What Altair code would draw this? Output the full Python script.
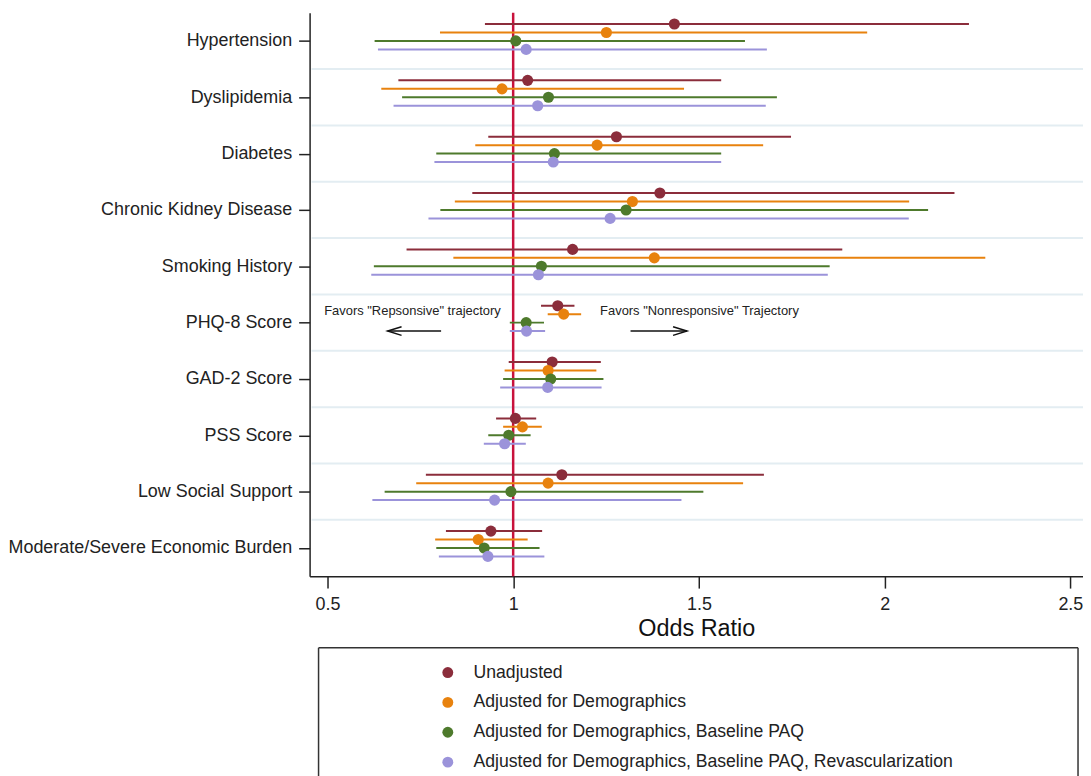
import json
import altair as alt
import pandas as pd

categories = [
    "Hypertension", "Dyslipidemia", "Diabetes", "Chronic Kidney Disease",
    "Smoking History", "PHQ-8 Score", "GAD-2 Score", "PSS Score",
    "Low Social Support", "Moderate/Severe Economic Burden",
]
series_names = [
    "Unadjusted",
    "Adjusted for Demographics",
    "Adjusted for Demographics, Baseline PAQ",
    "Adjusted for Demographics, Baseline PAQ, Revascularization",
]
series_colors = ["#8B2D3B", "#E8820E", "#4E7A2C", "#9B93DA"]

unadj_or = [1.434, 1.039, 1.278, 1.395, 1.160, 1.120, 1.105, 1.006, 1.131, 0.940]
unadj_lo = [0.924, 0.691, 0.933, 0.890, 0.713, 1.075, 0.988, 0.954, 0.765, 0.819]
unadj_hi = [2.227, 1.560, 1.748, 2.188, 1.886, 1.165, 1.236, 1.062, 1.675, 1.078]

demo_or = [1.251, 0.970, 1.226, 1.321, 1.380, 1.136, 1.094, 1.025, 1.094, 0.906]
demo_lo = [0.803, 0.645, 0.898, 0.843, 0.839, 1.093, 0.977, 0.973, 0.739, 0.790]
demo_hi = [1.953, 1.460, 1.673, 2.066, 2.271, 1.183, 1.224, 1.077, 1.619, 1.039]

paq_or = [1.007, 1.095, 1.111, 1.304, 1.076, 1.035, 1.101, 0.988, 0.994, 0.922]
paq_lo = [0.627, 0.701, 0.793, 0.804, 0.625, 0.991, 0.973, 0.933, 0.654, 0.793]
paq_hi = [1.624, 1.710, 1.560, 2.117, 1.852, 1.083, 1.243, 1.047, 1.512, 1.071]

rev_or = [1.035, 1.066, 1.108, 1.261, 1.068, 1.036, 1.093, 0.977, 0.950, 0.932]
rev_lo = [0.636, 0.678, 0.788, 0.772, 0.618, 0.991, 0.965, 0.921, 0.621, 0.800]
rev_hi = [1.683, 1.680, 1.560, 2.065, 1.847, 1.086, 1.238, 1.034, 1.453, 1.084]

x_ticks = [0.5, 1, 1.5, 2, 2.5]
reference_or = [1]

note_texts = ['Favors "Repsonsive" trajectory', 'Favors "Nonresponsive" Trajectory']
note_x = [0.9665, 1.234]
note_y = [4.80, 4.80]
arrow_lo = [0.662, 1.316]
arrow_hi = [0.806, 1.468]
arrow_y = [5.15, 5.15]

FONT = "Liberation Sans"
TXT = "#222222"

rows = []
all_series = [
    (unadj_or, unadj_lo, unadj_hi),
    (demo_or, demo_lo, demo_hi),
    (paq_or, paq_lo, paq_hi),
    (rev_or, rev_lo, rev_hi),
]
for s_idx, (name, (ors, los, his)) in enumerate(zip(series_names, all_series)):
    for c_idx, cat in enumerate(categories):
        rows.append(dict(category=cat, idx=c_idx, s=s_idx, series=name,
                         OR=ors[c_idx], lo=los[c_idx], hi=his[c_idx]))
df = pd.DataFrame(rows)

xscale = alt.Scale(domain=[0.452, 2.534], nice=False, zero=False)
yscale = alt.Scale(domain=[-0.5, 9.5], nice=False, zero=False, reverse=True)
xaxis = alt.Axis(values=x_ticks, format="~g", grid=False, title="Odds Ratio")
label_expr = json.dumps(categories) + "[round(datum.value)]"
yaxis = alt.Axis(values=list(range(len(categories))), labelExpr=label_expr,
                 grid=False, title=None, labelLimit=500)

X = lambda f: alt.X(f, type="quantitative", scale=xscale, axis=xaxis)
Y = lambda f: alt.Y(f, type="quantitative", scale=yscale, axis=yaxis)

legend = alt.Legend(
    title=None, orient="none", legendX=130, legendY=654,
    symbolType="circle", symbolSize=120, symbolStrokeWidth=0,
    labelFont=FONT, labelFontSize=17.7, labelColor=TXT,
    labelOffset=17, rowPadding=11, padding=0, labelLimit=800,
)
cscale = alt.Scale(domain=series_names, range=series_colors)

base = alt.Chart(df).transform_calculate(ypos="datum.idx + (datum.s - 2) * 0.15")

sep_df = pd.DataFrame({"ypos": [i + 0.5 for i in range(len(categories) - 1)]})
separators = alt.Chart(sep_df).mark_rule(color="#E3EDF2", strokeWidth=2).encode(
    y=Y("ypos"), x=alt.value(2), x2=alt.value(777)
)

ref = alt.Chart(pd.DataFrame({"OR": reference_or})).mark_rule(
    color="#C8123C", strokeWidth=2.5
).encode(x=X("OR"), y=alt.value(0), y2=alt.value(566))

ci = base.mark_rule(strokeWidth=2).encode(
    x=X("lo"), x2="hi", y=Y("ypos"),
    stroke=alt.Stroke("series:N", scale=cscale, legend=legend),
)

pts = base.mark_circle(size=125, opacity=1).encode(
    x=X("OR"), y=Y("ypos"),
    color=alt.Color("series:N", scale=cscale, legend=legend),
)

note_df = pd.DataFrame({"OR": note_x, "ypos": note_y, "label": note_texts})
note_left = alt.Chart(note_df.iloc[[0]]).mark_text(
    align="right", baseline="middle", font=FONT, fontSize=13, color=TXT
).encode(x=X("OR"), y=Y("ypos"), text="label:N")
note_right = alt.Chart(note_df.iloc[[1]]).mark_text(
    align="left", baseline="middle", font=FONT, fontSize=13, color=TXT
).encode(x=X("OR"), y=Y("ypos"), text="label:N")

arrow_df = pd.DataFrame({"lo": arrow_lo, "hi": arrow_hi, "ypos": arrow_y})
arrow_shafts = alt.Chart(arrow_df).mark_rule(color="#111111", strokeWidth=1.5).encode(
    x=X("lo"), x2="hi", y=Y("ypos")
)
head_left = alt.Chart(arrow_df.iloc[[0]]).transform_calculate(
    OR="datum.lo + 0.0188"
).mark_point(
    shape="M 1 -0.62 L -1 0 L 1 0.62", size=196, filled=False,
    color="#111111", strokeWidth=1.5, opacity=1
).encode(x=X("OR"), y=Y("ypos"))
head_right = alt.Chart(arrow_df.iloc[[1]]).transform_calculate(
    OR="datum.hi - 0.0188"
).mark_point(
    shape="M -1 -0.62 L 1 0 L -1 0.62", size=196, filled=False,
    color="#111111", strokeWidth=1.5, opacity=1
).encode(x=X("OR"), y=Y("ypos"))

box_data = alt.Data(values=[{}])
box_style = dict(color="#333333", strokeWidth=1.5)
box_top = alt.Chart(box_data).mark_rule(**box_style).encode(
    x=alt.value(9), x2=alt.value(772), y=alt.value(638)
)
box_left = alt.Chart(box_data).mark_rule(**box_style).encode(
    x=alt.value(9), y=alt.value(638), y2=alt.value(780)
)
box_right = alt.Chart(box_data).mark_rule(**box_style).encode(
    x=alt.value(772), y=alt.value(638), y2=alt.value(780)
)

chart = alt.layer(
    separators, ref, ci, pts, note_left, note_right,
    arrow_shafts, head_left, head_right, box_top, box_left, box_right,
).properties(
    width=777, height=566,
    autosize=alt.AutoSizeParams(type="none"),
    padding={"left": 303, "top": 3, "right": 0, "bottom": 199},
    background="white",
).configure_view(stroke=None).configure_axis(
    domainColor=TXT, domainWidth=1.5, tickColor=TXT, tickWidth=1.5,
    labelFont=FONT, labelColor=TXT, titleFont=FONT, titleColor="#111111",
    titleFontWeight="normal",
).configure_axisY(
    tickSize=11, labelFontSize=18, labelPadding=7,
).configure_axisX(
    tickSize=12, labelFontSize=18, labelPadding=8, titleFontSize=23.5, titlePadding=3,
)

chart.save("out.html", embed_options={"renderer": "svg", "actions": False})
